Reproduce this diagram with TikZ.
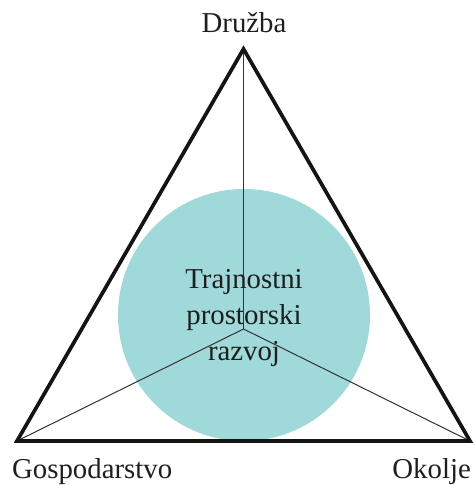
\documentclass[tikz,border=0pt]{standalone}
\usepackage{fontspec}
\setmainfont{Liberation Serif}
\definecolor{corefill}{HTML}{A0D9DA}
\definecolor{inktext}{HTML}{1E1E1E}
\definecolor{spoke}{HTML}{333333}
\begin{document}
\begin{tikzpicture}[x=1pt,y=1pt,
  label text/.style={inner sep=0pt, text=inktext, font=\fontsize{28.8}{36}\selectfont},
  frame/.style={line width=3.7pt, line join=miter, draw=black!92},
  spoke line/.style={line width=1pt, draw=spoke}]
\useasboundingbox (0,0) rectangle (474,486);
% corners of the triangle and the meeting point of the spokes
\coordinate (top) at (243.5,437);
\coordinate (left) at (17,45);
\coordinate (right) at (470,45);
\coordinate (hub) at (243.5,157);
% central disc
\node[circle, fill=corefill, minimum size=252pt, inner sep=0pt] (core) at (244,171) {};
% spokes
\draw[spoke line] (top) -- (hub);
\draw[spoke line] (left) -- (hub);
\draw[spoke line] (right) -- (hub);
% triangle
\draw[frame] (top) -- (left) -- (right) -- cycle;
% texts
\node[label text, align=center, anchor=center] (centre) at (244,168) {Trajnostni\\prostorski\\razvoj};
\node[label text, anchor=base] (druzba) at (244,453) {Družba};
\node[label text, anchor=base west] (gosp) at (12,8) {Gospodarstvo};
\node[label text, anchor=base east] (okolje) at (471,8) {Okolje};
\end{tikzpicture}
\end{document}
